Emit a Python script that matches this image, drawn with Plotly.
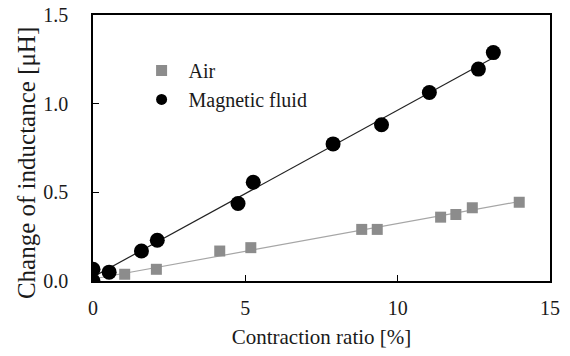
import numpy as np
import plotly.graph_objects as go

# Data
air_x = [0.0, 1.04, 2.08, 4.16, 5.18, 8.82, 9.33, 11.41, 11.91, 12.45, 13.99]
air_y = [0.0, 0.038, 0.066, 0.169, 0.188, 0.291, 0.291, 0.36, 0.375, 0.413, 0.444]
mf_x = [0.0, 0.0, 0.53, 1.59, 2.11, 4.76, 5.26, 7.88, 9.47, 11.04, 12.65, 13.14]
mf_y = [0.0, 0.066, 0.05, 0.169, 0.23, 0.437, 0.557, 0.773, 0.881, 1.063, 1.195, 1.288]

x_ticks = [0, 5, 10, 15]
y_ticks = [0.0, 0.5, 1.0, 1.5]
y_tick_text = ["0.0", "0.5", "1.0", "1.5"]

FONT = "Times New Roman"
AIR_COLOR = "#8c8c8c"
AIR_LINE = "#a6a6a6"
MF_COLOR = "#000000"


def fit_line(xs, ys):
    k, b = np.polyfit(xs, ys, 1)
    lx = np.array([min(xs), max(xs)])
    return lx, k * lx + b


fig = go.Figure()

ax_l, ay_l = fit_line(air_x, air_y)
mx_l, my_l = fit_line(mf_x, mf_y)

fig.add_trace(go.Scatter(x=ax_l, y=ay_l, mode="lines",
                         line=dict(color=AIR_LINE, width=1.2), showlegend=False, hoverinfo="skip"))
fig.add_trace(go.Scatter(x=mx_l, y=my_l, mode="lines",
                         line=dict(color="#222222", width=1.2), showlegend=False, hoverinfo="skip"))

fig.add_trace(go.Scatter(x=air_x, y=air_y, mode="markers", name="Air",
                         marker=dict(symbol="square", size=11, color=AIR_COLOR), showlegend=False))
fig.add_trace(go.Scatter(x=mf_x, y=mf_y, mode="markers", name="Magnetic fluid",
                         marker=dict(symbol="circle", size=15, color=MF_COLOR), showlegend=False))

# legend entries
fig.add_trace(go.Scatter(x=[None], y=[None], mode="markers", name="Air",
                         marker=dict(symbol="square", size=11, color=AIR_COLOR)))
fig.add_trace(go.Scatter(x=[None], y=[None], mode="markers", name="Magnetic fluid",
                         marker=dict(symbol="circle", size=11, color=MF_COLOR)))

fig.update_layout(
    width=570, height=356,
    margin=dict(l=93, r=20, t=15, b=75, autoexpand=False),
    paper_bgcolor="white", plot_bgcolor="white",
    font=dict(family=FONT, size=20, color="#1a1a1a"),
    legend=dict(x=0.091, y=0.865, xanchor="left", yanchor="top",
                bgcolor="rgba(0,0,0,0)", font=dict(family=FONT, size=20), tracegroupgap=0,
                itemwidth=44),
    xaxis=dict(range=[0, 15], tickvals=x_ticks, ticks="inside", ticklen=6,
               tickcolor="black", linecolor="black", linewidth=1.5, mirror=True,
               showgrid=False, zeroline=False, showline=True, automargin=False,
               ticklabelstandoff=8,
               title=dict(text="Contraction ratio [%]", standoff=12, font=dict(family=FONT, size=21)),
               tickfont=dict(family=FONT, size=20)),
    yaxis=dict(range=[0, 1.5], tickvals=y_ticks, ticktext=y_tick_text, ticks="inside",
               ticklen=6, tickcolor="black", linecolor="black", linewidth=1.5, mirror=True,
               showgrid=False, zeroline=False, showline=True, automargin=False,
               ticklabelstandoff=19,
               tickfont=dict(family=FONT, size=20)),
    annotations=[dict(text="Change of inductance [μH]", textangle=-90,
                      xref="paper", yref="paper", x=-0.144, y=0.444,
                      xanchor="center", yanchor="middle", showarrow=False,
                      font=dict(family=FONT, size=25, color="#1a1a1a"))],
)

fig.write_html("out.html", config={"displayModeBar": False},
               post_script="document.body.style.margin='0';document.body.style.padding='0';")
